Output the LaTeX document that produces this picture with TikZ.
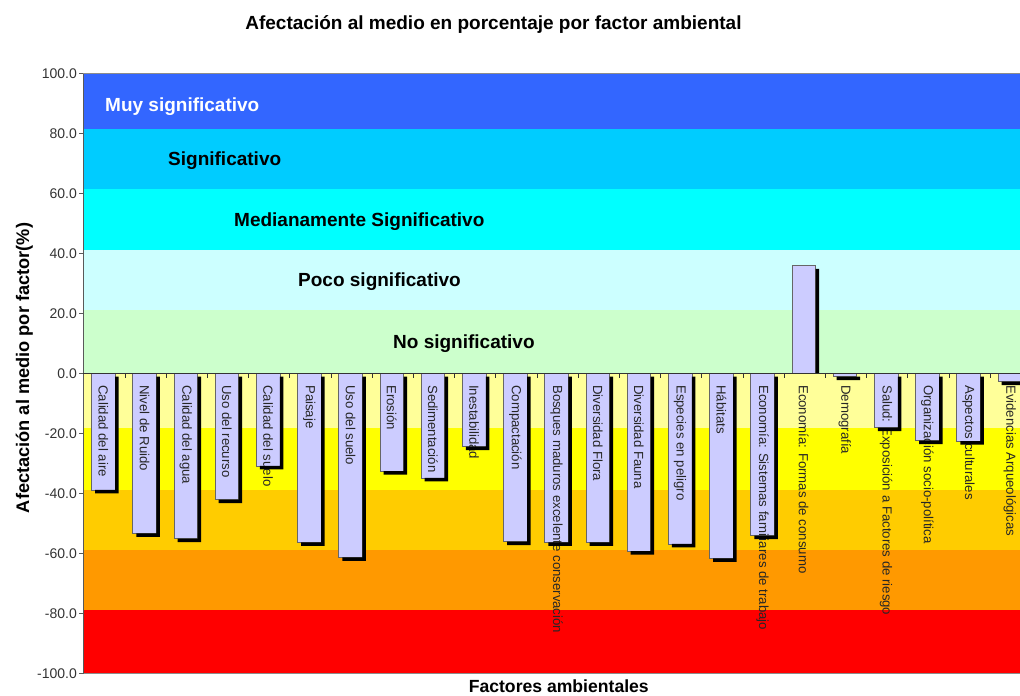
\documentclass[tikz,border=0pt]{standalone}
\usepackage{fontspec}
\setmainfont{Liberation Sans}
\usepackage{xcolor}
\usepackage{tikz}
\usetikzlibrary{positioning}

\definecolor{bandmuy}{HTML}{3366FF}
\definecolor{bandsig}{HTML}{00CCFF}
\definecolor{bandmed}{HTML}{00FFFF}
\definecolor{bandpoco}{HTML}{CCFFFF}
\definecolor{bandno}{HTML}{CCFFCC}
\definecolor{bandneg1}{HTML}{FFFF99}
\definecolor{bandneg2}{HTML}{FFFF00}
\definecolor{bandneg3}{HTML}{FFCC00}
\definecolor{bandneg4}{HTML}{FF9900}
\definecolor{bandneg5}{HTML}{FF0000}
\definecolor{barfill}{HTML}{CCCCFF}

\tikzset{
  band label/.style={anchor=base west, inner sep=0pt, font=\fontsize{19}{22}\selectfont\bfseries},
  tick label/.style={anchor=east, inner sep=0pt, text=black!80, font=\fontsize{14}{16}\selectfont},
  bar face/.style={fill=barfill, draw=black!60, line width=0.8pt},
  bar shadow/.style={fill=black},
  bar label/.style={rotate=-90, anchor=west, inner sep=0pt, text=black!85, font=\fontsize{13.2}{15}\selectfont},
  axis line/.style={draw=black!65, line width=1pt},
}

% one bar: index, value, label
\newcommand{\factorbar}[3]{%
  \pgfmathsetmacro{\barL}{91.6+41.2*#1}
  \pgfmathsetmacro{\barR}{\barL+23.5}
  \pgfmathsetmacro{\barY}{373.5-3*(#2)}
  \pgfmathsetmacro{\barT}{min(\barY,373.5)}
  \pgfmathsetmacro{\barB}{max(\barY,373.5)}
  \pgfmathsetmacro{\barS}{max(\barY+3.5,373.5)}
  \draw[bar face] (\barL,373.5) rectangle (\barR,\barY);
  \node[bar label] (f#1) at ({\barL+11.75},385) {#3};
  \fill[bar shadow] (\barR,\barT+3) -- (\barR+3.5,\barT+3) -- (\barR+3.5,\barS)
    -- (\barL+3.5,\barS) -- (\barL+3.5,\barB) -- (\barR,\barB) -- cycle;
}

\begin{document}
\begin{tikzpicture}[x=1pt, y=-1pt]

  \useasboundingbox (0,0) rectangle (1020,696);

  % Bands
  \fill[bandmuy]  (83,73.5) rectangle (1020,129);
  \fill[bandsig]  (83,129) rectangle (1020,188.5);
  \fill[bandmed]  (83,188.5) rectangle (1020,250);
  \fill[bandpoco] (83,250) rectangle (1020,310);
  \fill[bandno]   (83,310) rectangle (1020,373.5);
  \fill[bandneg1] (83,373.5) rectangle (1020,428);
  \fill[bandneg2] (83,428) rectangle (1020,490);
  \fill[bandneg3] (83,490) rectangle (1020,550);
  \fill[bandneg4] (83,550) rectangle (1020,610);
  \fill[bandneg5] (83,610) rectangle (1020,673.5);

  % Band labels
  \node[band label, text=white] (muy) at (105,111) {Muy significativo};
  \node[band label] (sig) at (168,165) {Significativo};
  \node[band label] (med) at (234,226.5) {Medianamente Significativo};
  \node[band label] (poco) at (298,286.5) {Poco significativo};
  \node[band label] (nosig) at (393,348) {No significativo};

  % Bars
  \factorbar{0}{-38.8}{Calidad del aire}
  \factorbar{1}{-53.3}{Nivel de Ruido}
  \factorbar{2}{-55}{Calidad del agua}
  \factorbar{3}{-42}{Uso del recurso}
  \factorbar{4}{-30.8}{Calidad del suelo}
  \factorbar{5}{-56.3}{Paisaje}
  \factorbar{6}{-61.3}{Uso del suelo}
  \factorbar{7}{-32.5}{Erosión}
  \factorbar{8}{-34.8}{Sedimentación}
  \factorbar{9}{-24.4}{Inestabilidad}
  \factorbar{10}{-56}{Compactación}
  \factorbar{11}{-56.3}{Bosques maduros excelente conservación}
  \factorbar{12}{-56.3}{Diversidad Flora}
  \factorbar{13}{-59.2}{Diversidad Fauna}
  \factorbar{14}{-56.8}{Especies en peligro}
  \factorbar{15}{-61.6}{Hábitats}
  \factorbar{16}{-54}{Economía: Sistemas familiares de trabajo}
  \factorbar{17}{35.9}{Economía: Formas de consumo}
  \factorbar{18}{-1}{Demografía}
  \factorbar{19}{-18}{Salud: Exposición a Factores de riesgo}
  \factorbar{20}{-22.4}{Organización socio-política}
  \factorbar{21}{-22.5}{Aspectos culturales}
  \factorbar{22}{-2.7}{Evidencias Arqueológicas}

  % Axes
  \draw[draw=black!45, line width=1pt] (83,73.5) -- (1020,73.5);
  \draw[draw=black!45, line width=1pt] (83,673.5) -- (1020,673.5);
  \draw[axis line] (83,73.5) -- (83,673.5);
  \draw[axis line, draw=black!80] (79,373.5) -- (1020,373.5);
  \foreach \k in {1,...,22}
    \draw[axis line, draw=black!80] (83.8+41.2*\k,373.5) -- (83.8+41.2*\k,378);
  \foreach \v/\t in {100/100.0,80/80.0,60/60.0,40/40.0,20/20.0,0/0.0,-20/-20.0,-40/-40.0,-60/-60.0,-80/-80.0,-100/-100.0} {
    \draw[axis line] (79,373.5-3*\v) -- (83,373.5-3*\v);
    \node[tick label] (tick\v) at (77,373.5-3*\v) {\t};
  }

  % Titles
  \node[anchor=base, inner sep=0pt, font=\fontsize{19}{22}\selectfont\bfseries] (title) at (493.5,29.5)
    {Afectación al medio en porcentaje por factor ambiental};
  \node[anchor=base, inner sep=0pt, font=\fontsize{17.6}{20}\selectfont\bfseries] (xlabel) at (558.8,692.5)
    {Factores ambientales};
  \node[anchor=base, rotate=90, inner sep=0pt, font=\fontsize{18.2}{21}\selectfont\bfseries] (ylabel) at (29,368)
    {Afectación al medio por factor(\%)};

\end{tikzpicture}
\end{document}
